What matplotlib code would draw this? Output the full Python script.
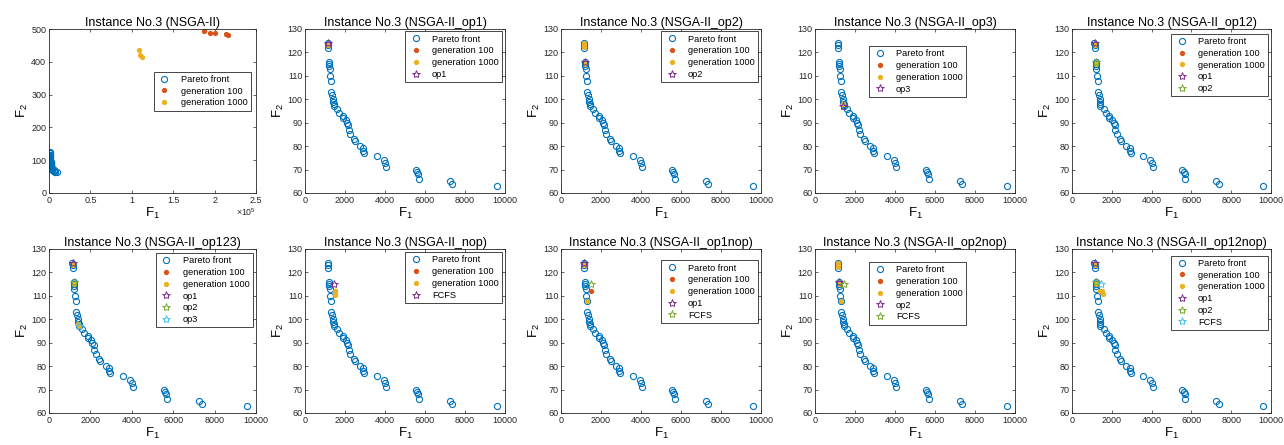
import matplotlib.pyplot as plt
from matplotlib.ticker import FuncFormatter

plt.rcParams['font.family'] = ['Liberation Sans', 'DejaVu Sans']
plt.rcParams['mathtext.default'] = 'regular'

# === Pareto front (same in every panel) ===
pareto_f1 = [1130, 1150, 1150, 1200, 1200, 1210, 1230, 1270, 1300, 1300, 1370, 1400,
             1420, 1430, 1430, 1600, 1700, 1880, 1880, 2030, 2100, 2170, 2180, 2270,
             2430, 2480, 2730, 2920, 2900, 2950, 3580, 3930, 4020, 4070, 5550, 5620,
             5670, 5700, 7250, 7370, 9580]
pareto_f2 = [124, 123, 122, 116, 115, 114, 113, 110, 108, 103, 102, 100,
             99, 98, 97, 96, 94, 93, 92, 91, 90, 89, 87, 85,
             83, 82, 80, 79, 78, 77, 76, 74, 73, 71, 70, 69,
             68, 66, 65, 64, 63]

# === generation 100 / generation 1000 / reference solutions, per variant ===
titles = ["NSGA-II", "NSGA-II_op1", "NSGA-II_op2", "NSGA-II_op3", "NSGA-II_op12",
          "NSGA-II_op123", "NSGA-II_nop", "NSGA-II_op1nop", "NSGA-II_op2nop", "NSGA-II_op12nop"]

gen100 = [
    [(187000, 495), (194000, 487), (201000, 487), (214000, 484), (216000, 482)],
    [(1150, 123)],
    [(1150, 123)],
    [(1420, 98)],
    [(1150, 123)],
    [(1150, 123)],
    [(1480, 112)],
    [(1480, 112)],
    [(1150, 123)],
    [(1150, 123)],
]
gen1000 = [
    [(109000, 435), (110000, 420), (112000, 415)],
    [(1150, 123)],
    [(1150, 124), (1150, 123), (1160, 122.5), (1200, 115)],
    [(1420, 98)],
    [(1150, 123), (1200, 115)],
    [(1150, 123), (1200, 115), (1420, 98), (1440, 97)],
    [(1480, 112), (1480, 111), (1480, 110.5)],
    [(1150, 123), (1320, 108)],
    [(1150, 124), (1150, 123), (1160, 122.5), (1200, 115), (1320, 108)],
    [(1150, 123), (1200, 115), (1420, 112), (1520, 112), (1580, 111)],
]
# (label, f1, f2)
stars = [
    [],
    [("op1", 1150, 124)],
    [("op2", 1200, 116)],
    [("op3", 1420, 97)],
    [("op1", 1150, 124), ("op2", 1200, 116)],
    [("op1", 1150, 124), ("op2", 1200, 116), ("op3", 1430, 97)],
    [("FCFS", 1450, 115)],
    [("op1", 1150, 124), ("FCFS", 1480, 115)],
    [("op2", 1200, 116), ("FCFS", 1450, 115)],
    [("op1", 1150, 124), ("op2", 1200, 116), ("FCFS", 1450, 115)],
]
# legend anchors (axes fraction, loc)
legend_pos = [((0.975, 0.74), "upper right"), ((0.985, 0.985), "upper right"),
              ((0.985, 0.985), "upper right"), ((0.27, 0.895), "upper left"),
              ((0.985, 0.97), "upper right"), ((0.985, 0.975), "upper right"),
              ((0.985, 0.98), "upper right"), ((0.985, 0.93), "upper right"),
              ((0.27, 0.92), "upper left"), ((0.985, 0.96), "upper right")]

blue, red, yellow = "#0072BD", "#D95319", "#EDB120"
star_colors = ["#7E2F8E", "#77AC30", "#4DBEEE"]

fig = plt.figure(figsize=(12.84, 4.45), dpi=100)
W, H = 1284, 445
lefts = [49, 305, 561, 815, 1072]
widths = [207, 200, 200, 200, 199]
tops = [29, 249]
ah = 164

for i, title in enumerate(titles):
    r, c = divmod(i, 5)
    ax = fig.add_axes([lefts[c] / W, 1 - (tops[r] + ah) / H, widths[c] / W, ah / H])

    ax.plot(pareto_f1, pareto_f2, "o", mfc="none", mec=blue, ms=4.4, mew=0.8,
            label="Pareto front")
    ax.plot([p[0] for p in gen100[i]], [p[1] for p in gen100[i]], "o", color=red,
            ms=3.8, mew=0, label="generation 100")
    ax.plot([p[0] for p in gen1000[i]], [p[1] for p in gen1000[i]], "o", color=yellow,
            ms=3.8, mew=0, label="generation 1000")
    for k, (lab, sx, sy) in enumerate(stars[i]):
        ax.plot([sx], [sy], "*", mfc="none", mec=star_colors[k], ms=6, mew=0.7, label=lab)

    if i == 0:
        ax.set_xlim(0, 250000)
        ax.set_ylim(0, 500)
        ax.set_xticks([0, 50000, 100000, 150000, 200000, 250000])
        ax.set_yticks([0, 100, 200, 300, 400, 500])
        ax.xaxis.set_major_formatter(FuncFormatter(lambda v, p: f"{v / 1e5:g}"))
        ax.text(1.0, -0.08, r"$\times10^5$", transform=ax.transAxes, fontsize=6.3,
                ha="right", va="top", color="#262626")
    else:
        ax.set_xlim(0, 10000)
        ax.set_ylim(60, 130)
        ax.set_xticks(range(0, 10001, 2000))
        ax.set_yticks(range(60, 131, 10))

    ax.tick_params(direction="in", top=True, right=True, length=2.5, width=0.5,
                   labelsize=6.5, pad=2, colors="#262626")
    for s in ax.spines.values():
        s.set_linewidth(0.6)
        s.set_color("#262626")

    ax.set_title(f"Instance No.3 ({title})", fontsize=9, pad=2.5)
    ax.set_xlabel("F$_1$", fontsize=9.5, labelpad=1)
    ax.set_ylabel("F$_2$", fontsize=9.5, labelpad=1)

    anchor, loc = legend_pos[i]
    leg = ax.legend(loc=loc, bbox_to_anchor=anchor, fontsize=6.6, fancybox=False,
                    edgecolor="#262626", framealpha=1, handlelength=1.6,
                    handletextpad=1.0, borderpad=0.35, labelspacing=0.3,
                    borderaxespad=0)
    leg.get_frame().set_linewidth(0.6)

fig.savefig("out.png", dpi=100)
